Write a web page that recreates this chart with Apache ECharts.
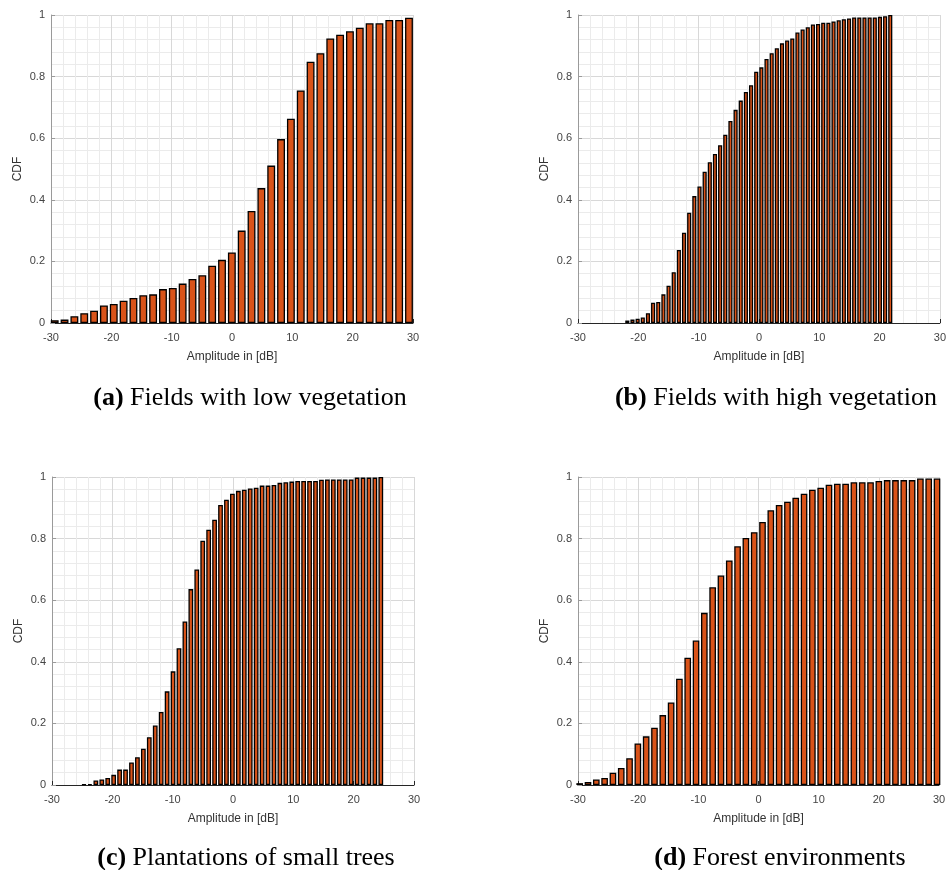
<!DOCTYPE html>
<html>
<head>
<meta charset="utf-8">
<script src="https://cdn.jsdelivr.net/npm/echarts@6/dist/echarts.min.js"></script>
<style>
  html, body { margin: 0; padding: 0; background: #fff; }
  #chart { width: 949px; height: 870px; }
</style>
</head>
<body>
<div id="chart"></div>
<script>
// CDF values per amplitude bin
const cdfLowVegetation = [
  0.009, 0.011, 0.022, 0.032, 0.040, 0.057, 0.062, 0.072, 0.081, 0.090,
  0.093, 0.110, 0.114, 0.128, 0.143, 0.155, 0.186, 0.205, 0.229, 0.300,
  0.364, 0.438, 0.511, 0.597, 0.663, 0.755, 0.848, 0.876, 0.924, 0.936,
  0.947, 0.959, 0.973, 0.973, 0.984, 0.984, 0.991
];
const cdfHighVegetation = [
  0.008, 0.011, 0.014, 0.018, 0.032, 0.066, 0.068, 0.093, 0.121, 0.165,
  0.237, 0.293, 0.358, 0.412, 0.443, 0.491, 0.522, 0.549, 0.577, 0.611,
  0.656, 0.692, 0.722, 0.750, 0.772, 0.816, 0.830, 0.857, 0.876, 0.892,
  0.908, 0.917, 0.924, 0.943, 0.953, 0.960, 0.969, 0.971, 0.975, 0.975,
  0.979, 0.983, 0.986, 0.989, 0.992, 0.992, 0.992, 0.992, 0.992, 0.994,
  0.996, 1.000
];
const cdfSmallTrees = [
  0.002, 0.003, 0.015, 0.018, 0.023, 0.033, 0.050, 0.050, 0.073, 0.090,
  0.118, 0.155, 0.193, 0.237, 0.304, 0.369, 0.444, 0.531, 0.636, 0.700,
  0.793, 0.829, 0.861, 0.909, 0.926, 0.946, 0.955, 0.959, 0.963, 0.965,
  0.972, 0.972, 0.974, 0.981, 0.983, 0.985, 0.987, 0.987, 0.987, 0.987,
  0.991, 0.992, 0.992, 0.992, 0.992, 0.992, 0.998, 0.998, 0.998, 0.998,
  1.000
];
const cdfForest = [
  0.006, 0.010, 0.018, 0.023, 0.040, 0.055, 0.087, 0.135, 0.158, 0.186,
  0.227, 0.268, 0.345, 0.413, 0.469, 0.559, 0.642, 0.680, 0.729, 0.775,
  0.802, 0.821, 0.854, 0.892, 0.909, 0.920, 0.933, 0.946, 0.959, 0.965,
  0.975, 0.978, 0.978, 0.983, 0.983, 0.983, 0.987, 0.990, 0.990, 0.990,
  0.990, 0.995, 0.995, 0.995
];

// histogram bin limits in dB (equal-width bins, one per value)
const binLimitsLowVegetation = [-30.2, 30.15];
const binLimitsHighVegetation = [-22.25, 22.2];
const binLimitsSmallTrees = [-25.19, 24.99];
const binLimitsForest = [-30.41, 30.36];

const xTicks = [-30, 30, 10];
const yTicks = [0, 1, 0.2];

const captionTags = ['(a)', '(b)', '(c)', '(d)'];
const captionTexts = [
  'Fields with low vegetation',
  'Fields with high vegetation',
  'Plantations of small trees',
  'Forest environments'
];

const xName = 'Amplitude in [dB]';
const yName = 'CDF';

const BAR_COLOR = '#D95319';
const SANS = '"Liberation Sans", Arial, sans-serif';
const SERIF = '"Liberation Serif", "Times New Roman", serif';

const panels = [
  { values: cdfLowVegetation, limits: binLimitsLowVegetation, grid: { left: 51, top: 15, width: 362, height: 308 }, caption: { x: 250, y: 385 } },
  { values: cdfHighVegetation, limits: binLimitsHighVegetation, grid: { left: 578, top: 15, width: 362, height: 308 }, caption: { x: 776, y: 385 } },
  { values: cdfSmallTrees, limits: binLimitsSmallTrees, grid: { left: 52, top: 477, width: 362, height: 308 }, caption: { x: 246, y: 845 } },
  { values: cdfForest, limits: binLimitsForest, grid: { left: 578, top: 477, width: 361, height: 308 }, caption: { x: 780, y: 845 } }
];

function binData(values, limits) {
  const width = (limits[1] - limits[0]) / values.length;
  return values.map((v, i) => [limits[0] + width * (i + 0.5), v]);
}

function barPixelWidth(values, limits, gridWidth) {
  const width = (limits[1] - limits[0]) / values.length;
  return 0.8 * width / (xTicks[1] - xTicks[0]) * gridWidth;
}

function buildXAxis(idx) {
  return {
    type: 'value',
    gridIndex: idx,
    min: xTicks[0],
    max: xTicks[1],
    interval: xTicks[2],
    name: xName,
    nameLocation: 'middle',
    nameGap: 28,
    nameTextStyle: { color: '#333', fontSize: 12, fontFamily: SANS },
    axisLine: { show: true, onZero: false, lineStyle: { color: '#262626', width: 1 } },
    axisTick: { show: true, inside: true, length: 4, lineStyle: { color: '#262626' } },
    axisLabel: { color: '#444', fontSize: 11, fontFamily: SANS, margin: 9 },
    splitLine: { show: true, lineStyle: { color: '#d8d8d8', width: 1 } },
    minorTick: { show: false, splitNumber: 5 },
    minorSplitLine: { show: true, lineStyle: { color: '#ebebeb', width: 1 } }
  };
}

function buildYAxis(idx) {
  return {
    type: 'value',
    gridIndex: idx,
    min: yTicks[0],
    max: yTicks[1],
    interval: yTicks[2],
    name: yName,
    nameLocation: 'middle',
    nameGap: 27,
    nameRotate: 90,
    nameTextStyle: { color: '#333', fontSize: 12, fontFamily: SANS },
    axisLine: { show: true, onZero: false, lineStyle: { color: '#9a9a9a', width: 1 } },
    axisTick: { show: true, inside: true, length: 4, lineStyle: { color: '#9a9a9a' } },
    axisLabel: { color: '#444', fontSize: 11, fontFamily: SANS, margin: 6 },
    splitLine: { show: true, lineStyle: { color: '#d8d8d8', width: 1 } },
    minorTick: { show: false, splitNumber: 5 },
    minorSplitLine: { show: true, lineStyle: { color: '#ebebeb', width: 1 } }
  };
}

function buildCaption(idx, pos) {
  return {
    text: '{b|' + captionTags[idx] + '} ' + captionTexts[idx],
    left: pos.x,
    top: pos.y,
    textAlign: 'center',
    padding: 0,
    textStyle: {
      color: '#000',
      fontSize: 26,
      fontWeight: 'normal',
      fontFamily: SERIF,
      rich: {
        b: { color: '#000', fontSize: 26, fontWeight: 'bold', fontFamily: SERIF }
      }
    }
  };
}

const option = {
  backgroundColor: '#fff',
  animation: false,
  title: panels.map((p, i) => buildCaption(i, p.caption)),
  grid: panels.map((p) => Object.assign({ containLabel: false }, p.grid)),
  xAxis: panels.map((p, i) => buildXAxis(i)),
  yAxis: panels.map((p, i) => buildYAxis(i)),
  series: panels.map((p, i) => ({
    type: 'bar',
    xAxisIndex: i,
    yAxisIndex: i,
    barWidth: barPixelWidth(p.values, p.limits, p.grid.width),
    itemStyle: { color: BAR_COLOR, borderColor: '#000', borderWidth: 1.3 },
    data: binData(p.values, p.limits)
  }))
};

const chart = echarts.init(document.getElementById('chart'), null, { renderer: 'canvas' });
chart.setOption(option);
</script>
</body>
</html>
